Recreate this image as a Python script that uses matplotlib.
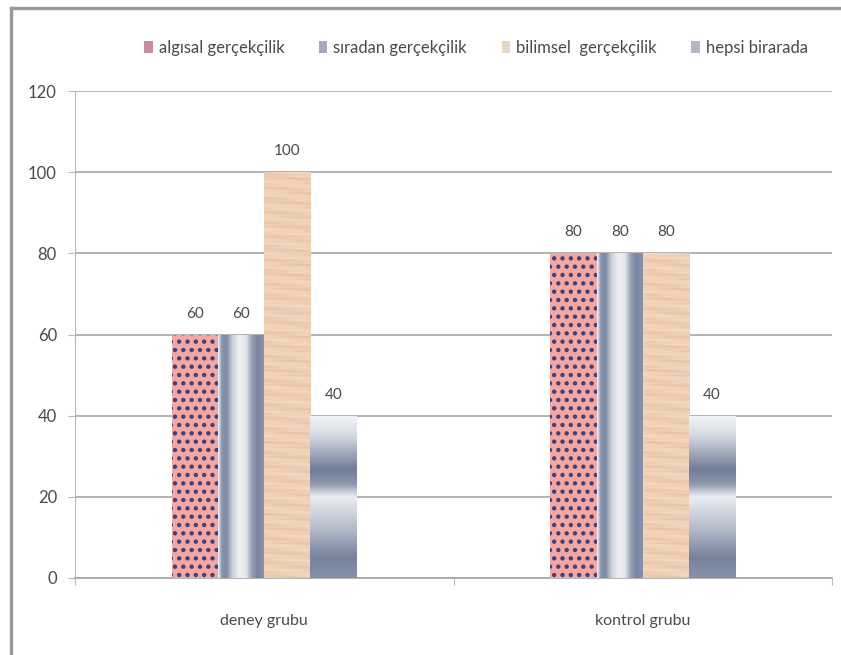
import numpy as np
import matplotlib
matplotlib.use("Agg")
import matplotlib.pyplot as plt
from matplotlib.colors import LinearSegmentedColormap
from matplotlib.lines import Line2D
from matplotlib.patches import Patch

# ---- data -------------------------------------------------------------
groups = ["deney grubu", "kontrol grubu"]
series_names = ["algısal gerçekçilik", "sıradan gerçekçilik",
                "bilimsel  gerçekçilik", "hepsi birarada"]
algisal = [60, 80]
siradan = [60, 80]
bilimsel = [100, 80]
hepsi = [40, 40]
y_ticks = [0, 20, 40, 60, 80, 100, 120]

plt.rcParams["font.family"] = ["Lato", "DejaVu Sans"]
text_color = "#4a4a4a"

fig = plt.figure(figsize=(8.41, 6.55), dpi=100)
ax = fig.add_axes([75 / 841, 1 - 578 / 655, (832 - 75) / 841, (578 - 91) / 655])

x = np.arange(len(groups))
w = 0.122
offsets = np.array([-1.5, -0.5, 0.5, 1.5]) * w

plt.rcParams["hatch.linewidth"] = 1.9

# dotted salmon bars
b1 = ax.bar(x + offsets[0], algisal, w, facecolor="#f3a6a2",
            edgecolor="#3d3f78", hatch="..", linewidth=0, zorder=3)
# banded grey bars (gradient across)
b2 = ax.bar(x + offsets[1], siradan, w, facecolor="#c0c6d2",
            linewidth=0, zorder=3)
# tan wood-grain bars
b3 = ax.bar(x + offsets[2], bilimsel, w, facecolor="#f1d3b8",
            linewidth=0, zorder=3)
# grey bars with vertical gradient
b4 = ax.bar(x + offsets[3], hepsi, w, facecolor="#a0a8ba",
            linewidth=0, zorder=3)

# horizontal banding for the second series
cm_across = LinearSegmentedColormap.from_list(
    "across",
    [(0.0, "#f4f5f8"), (0.07, "#8a94ac"), (0.18, "#7f8aa3"),
     (0.3, "#c9ced9"), (0.45, "#eef0f4"), (0.6, "#e3e6ec"),
     (0.72, "#98a1b4"), (0.85, "#7a849e"), (1.0, "#8a94ab")])
across = np.linspace(0, 1, 64)[None, :]
for p in b2.patches:
    x0, y0 = p.get_x(), p.get_y()
    im = ax.imshow(across, cmap=cm_across, aspect="auto",
                   extent=[x0, x0 + p.get_width(), y0, y0 + p.get_height()],
                   zorder=3.1, interpolation="bicubic")
    im.set_clip_path(p)

# wood grain texture for the third series
cm_wood = LinearSegmentedColormap.from_list(
    "wood", ["#f6dcc8", "#f0d0b6", "#e4bfa0"])
for p in b3.patches:
    x0, y0, pw, ph = p.get_x(), p.get_y(), p.get_width(), p.get_height()
    n = int(ph * 3)
    yy = np.linspace(0, 1, n)[:, None]
    xx = np.linspace(0, 1, 40)[None, :]
    grain = (0.5 + 0.2 * np.sin(yy * ph * 2.1 + 3 * xx)
             + 0.15 * np.sin(yy * ph * 5.3 + 1.3)
             + 0.1 * np.sin(yy * ph * 11.7 - 5 * xx))
    im = ax.imshow(grain, cmap=cm_wood, aspect="auto", vmin=0, vmax=1,
                   extent=[x0, x0 + pw, y0, y0 + ph], origin="lower",
                   zorder=3.1, interpolation="bilinear")
    im.set_clip_path(p)

# two-band vertical gradient for the fourth series (light at the top)
cm_down = LinearSegmentedColormap.from_list(
    "down",
    [(0.0, "#f3f4f7"), (0.12, "#d6dae3"), (0.33, "#717d97"),
     (0.42, "#8d97ac"), (0.5, "#eceef2"), (0.7, "#b4bbca"),
     (0.88, "#76829c"), (1.0, "#8792a9")])
down = np.linspace(1, 0, 128)[:, None]
for p in b4.patches:
    x0, y0 = p.get_x(), p.get_y()
    im = ax.imshow(down, cmap=cm_down, aspect="auto", vmin=0, vmax=1,
                   extent=[x0, x0 + p.get_width(), y0, y0 + p.get_height()],
                   origin="lower", zorder=3.1, interpolation="bicubic")
    im.set_clip_path(p)

ax.set_xlim(-0.5, 1.5)
ax.set_ylim(0, 120)

# value labels
for cont, vals in zip([b1, b2, b3, b4], [algisal, siradan, bilimsel, hepsi]):
    for p, v in zip(cont.patches, vals):
        ax.annotate(f"{v}", (p.get_x() + p.get_width() / 2, v),
                    xytext=(0, 10), textcoords="offset points",
                    ha="center", va="bottom", fontsize=11,
                    color=text_color, zorder=5)

# axes styling
ax.set_yticks(y_ticks)
ax.yaxis.grid(True, color="#a6a6a6", linewidth=1.2, zorder=0)
ax.set_axisbelow(True)
for s in ["top", "right"]:
    ax.spines[s].set_visible(False)
ax.spines["left"].set_color("#b8b8b8")
ax.spines["bottom"].set_color("#a6a6a6")
ax.spines["bottom"].set_linewidth(1.2)
ax.tick_params(axis="y", length=5, color="#b8b8b8", labelsize=12,
               labelcolor=text_color, pad=8)
ax.set_xticks([-0.5, 0.5, 1.5])
ax.set_xticklabels([])
ax.tick_params(axis="x", length=5, color="#b8b8b8")
for xi, g in zip(x, groups):
    ax.text(xi, -10.5, g, ha="center", va="center", fontsize=11.5,
            color=text_color, clip_on=False)

# legend
handles = [Patch(facecolor="#c88e9c"), Patch(facecolor="#a2a9b8"),
           Patch(facecolor="#ead6c4"), Patch(facecolor="#b0b6c3")]
fig.legend(handles, series_names, loc="center", ncol=4,
           bbox_to_anchor=(476 / 841, 1 - 48 / 655), frameon=False,
           fontsize=12, handlelength=0.5, handleheight=0.75,
           handletextpad=0.35, columnspacing=2.1, labelcolor=text_color)

# outer chart frame: left and top edges
frame = dict(color="#9a9a9a", linewidth=2.4, transform=fig.transFigure)
fig.add_artist(Line2D([11 / 841, 11 / 841], [0, 1 - 8 / 655], **frame))
fig.add_artist(Line2D([11 / 841, 1], [1 - 8 / 655, 1 - 8 / 655], **frame))

fig.savefig("out.png", dpi=100)
